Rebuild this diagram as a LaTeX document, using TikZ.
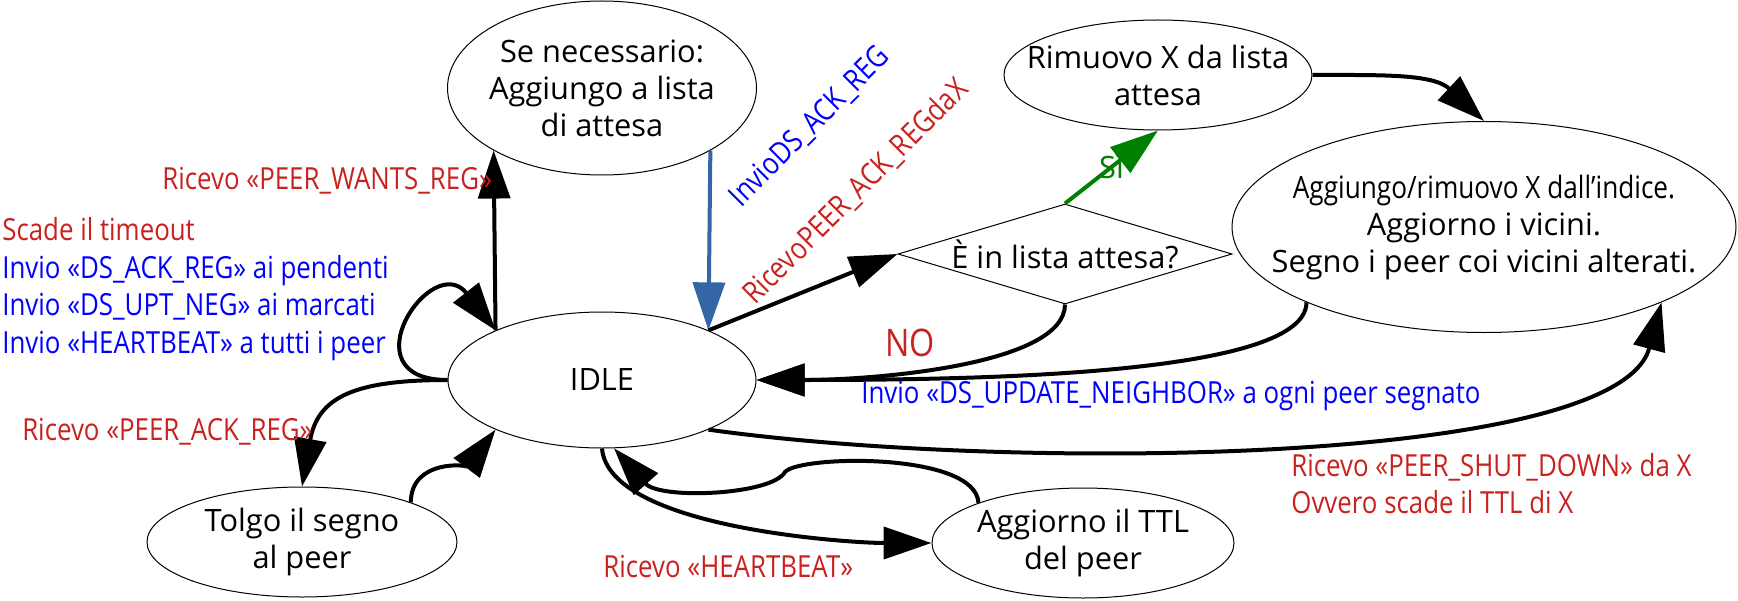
\documentclass[tikz,border=0pt]{standalone}
\usepackage{fontspec}
\setmainfont{Open Sans}
\newfontfamily\etichetta[FakeStretch=0.85]{Open Sans}
\usepackage{tikz}
\usetikzlibrary{positioning,arrows.meta,shapes.geometric}

\definecolor{rosso}{HTML}{C9211E}
\definecolor{blu}{HTML}{0000FF}
\definecolor{bluarco}{HTML}{3465A4}
\definecolor{verde}{HTML}{008000}

\tikzset{
  testo/.style={font=\fontsize{15.4pt}{18.5pt}\selectfont},
  stato/.style={testo,ellipse,draw,line width=0.5pt,inner xsep=-30pt,inner ysep=0pt,align=center},
  scelta/.style={testo,diamond,draw,line width=0.5pt,aspect=3.34,inner sep=0pt,
    minimum width=167pt,minimum height=50pt},
  etich/.style={inner sep=0pt,align=left,font=\etichetta\fontsize{15.2pt}{18.75pt}\selectfont},
  freccia/.style={line width=2pt,-{Triangle[length=24pt,width=16pt]}}
}

\begin{document}
\begin{tikzpicture}[on grid]
  \useasboundingbox (-301pt,-110pt) rectangle (568pt,190pt);

  \node[stato,minimum width=154pt,minimum height=68pt]   (idle)                                        {IDLE};
  \node[stato,minimum width=154.5pt,minimum height=87pt] (attesa)  [above=146pt of idle]               {Se necessario:\\Aggiungo a lista\\di attesa};
  \node[stato,minimum width=155pt,minimum height=55pt]   (tolgo)   [below left=81pt and 150pt of idle] {Tolgo il segno\\al peer};
  \node[stato,minimum width=151pt,minimum height=55pt]   (ttl)     [below right=81.5pt and 240.5pt of idle] {Aggiorno il TTL\\del peer};
  \node[scelta]                                          (esame)   [above right=63pt and 231.5pt of idle] {È in lista attesa?};
  \node[stato,minimum width=154pt,minimum height=55pt]   (rimuovo) [above right=89.5pt and 46.5pt of esame] {Rimuovo X da lista\\attesa};
  \node[stato,minimum width=252pt,minimum height=105.5pt] (indice) [above right=13.5pt and 209.5pt of esame]
    {{\etichetta Aggiungo/rimuovo X dall’indice.}\\Aggiorno i vicini.\\Segno i peer coi vicini alterati.};

  \coordinate (piega) at (91.5pt,-46pt);

  % archi dallo stato IDLE
  \draw[freccia] (idle.155) -- (attesa.210)
    node[etich,text=rosso,pos=0.83,left] (lwants) {Ricevo «PEER\_WANTS\_REG»};
  \draw[freccia,bluarco] (attesa.-30) -- (idle.25);
  \draw[freccia] (idle.25) -- (esame.west);
  \draw[freccia,verde] (esame.north) -- (rimuovo.south) node[testo,midway,inner sep=0pt] (lsi) {Sì};
  \draw[freccia] (rimuovo.east) to[out=0,in=137] (indice.north);
  \draw[freccia] (esame.south) .. controls +(0,-30pt) and +(60pt,0) .. (idle.east);
  \draw[freccia] (indice.203) .. controls +(0,-35pt) and +(125pt,0) .. (idle.east);
  \draw[freccia] (idle.-25) .. controls +(-8:150pt) and +(-105:85pt) .. (indice.-23);
  \draw[freccia] (idle.west) to[out=180,in=128,looseness=3.8] (idle.155);
  \draw[freccia] (idle.west) to[out=180,in=80,looseness=1.3] (tolgo.north);
  \draw[freccia] (tolgo.20) to[out=90,in=-127] (idle.205);
  \draw[freccia] (idle.south) to[out=-85,in=180,looseness=0.6] (ttl.west);
  \draw[freccia] (ttl.159) .. controls (187pt,-36pt) and (99pt,-37.5pt) .. (piega)
                           .. controls (85pt,-57.5pt) and (29pt,-60pt) .. (idle.-80);

  % etichette
  \node[etich,text=blu,anchor=west] (ltimeout) at (-300pt,45.5pt)
    {\textcolor{rosso}{Scade il timeout}\\Invio «DS\_ACK\_REG» ai pendenti\\Invio «DS\_UPT\_NEG» ai marcati\\Invio «HEARTBEAT» a tutti i peer};
  \node[etich,text=rosso,anchor=base east] (lack) at (-144.5pt,-30pt) {Ricevo «PEER\_ACK\_REG»};
  \node[etich,text=rosso,anchor=base west] (lbeat) at (0.5pt,-98.5pt) {Ricevo «HEARTBEAT»};
  \node[etich,text=blu,anchor=base west] (lupdate) at (129.5pt,-11.5pt) {Invio «DS\_UPDATE\_NEIGHBOR» a ogni peer segnato};
  \node[etich,text=rosso,font=\etichetta\fontsize{19pt}{20pt}\selectfont] (lno) at (154pt,18.5pt) {NO};
  \node[etich,text=rosso,anchor=west] (lshut) at (344.5pt,-51.75pt) {Ricevo «PEER\_SHUT\_DOWN» da X\\Ovvero scade il TTL di X};
  \node[etich,text=blu,rotate=45] (lreg) at (104pt,126.5pt) {InvioDS\_ACK\_REG};
  \node[etich,text=rosso,rotate=45] (lackx) at (127pt,94pt) {RicevoPEER\_ACK\_REGdaX};
\end{tikzpicture}
\end{document}
